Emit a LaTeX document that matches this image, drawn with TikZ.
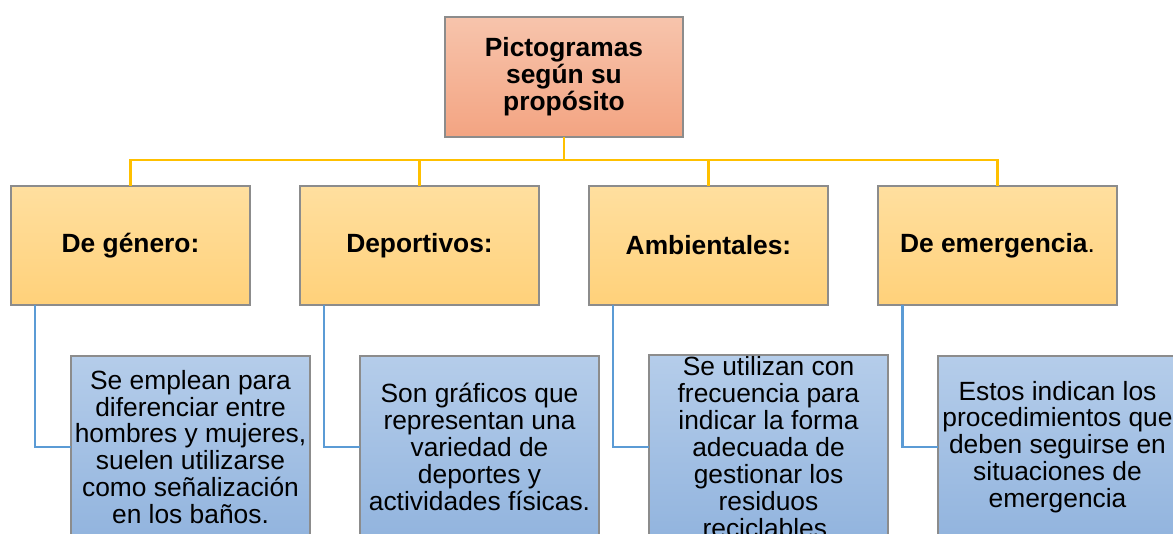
\documentclass[tikz,border=0pt]{standalone}
\usepackage{fontspec}
\setmainfont{Liberation Sans}
\usetikzlibrary{positioning}

\definecolor{boxgray}{HTML}{8C8C8C}
\definecolor{salmonTop}{HTML}{F7C4AC}
\definecolor{salmonBot}{HTML}{F3A482}
\definecolor{sandTop}{HTML}{FFDF9F}
\definecolor{sandBot}{HTML}{FFD17A}
\definecolor{skyTop}{HTML}{B5CDEA}
\definecolor{skyBot}{HTML}{92B4DE}
\definecolor{treeyellow}{HTML}{FFC000}
\definecolor{linkblue}{HTML}{5B9BD5}

\tikzset{
  titlebox/.style={draw=boxgray, line width=0.8pt, outer sep=0pt, top color=salmonTop, bottom color=salmonBot,
    minimum width=4.76cm, minimum height=2.4cm, align=center,
    font=\fontsize{15}{15.3}\selectfont\bfseries},
  catbox/.style={draw=boxgray, line width=0.8pt, outer sep=0pt, top color=sandTop, bottom color=sandBot,
    minimum width=4.78cm, minimum height=2.38cm, align=center,
    font=\fontsize{15}{15.3}\selectfont\bfseries},
  descbox/.style={draw=boxgray, line width=0.8pt, outer sep=0pt, top color=skyTop, bottom color=skyBot,
    minimum width=4.78cm, minimum height=3.64cm, align=center, inner sep=1pt,
    font=\fontsize{15}{15.3}\selectfont},
  trunk/.style={draw=treeyellow, line width=1.7pt},
  branch/.style={draw=linkblue, line width=1.7pt},
}

\begin{document}
\begin{tikzpicture}
  \clip (0,0) rectangle (23.46,-10.68);
  \useasboundingbox (0,0) rectangle (23.46,-10.68);

  \node [titlebox] (top) at (11.28,-1.54) {Pictogramas\\según su\\propósito};

  \node [catbox] (gen) at (2.61,-4.91) {De género:};
  \node [catbox,right=1cm of gen] (dep) {Deportivos:};
  \node [catbox,right=1cm of dep] (amb) {Ambientales:};
  \node [catbox,right=1cm of amb] (emg) {De emergencia{\mdseries.}};

  \node [descbox] (dgen) at (3.81,-8.94) {Se emplean para\\diferenciar entre\\hombres y mujeres,\\suelen utilizarse\\como señalización\\en los baños.};
  \node [descbox,right=1cm of dgen] (ddep) {Son gráficos que\\representan una\\variedad de\\deportes y\\actividades físicas.};
  \node [descbox,right=1cm of ddep] (damb) {Se utilizan con\\frecuencia para\\indicar la forma\\adecuada de\\gestionar los\\residuos\\reciclables.};
  \node [descbox,right=1cm of damb] (demg) {Estos indican los\\procedimientos que\\deben seguirse en\\situaciones de\\emergencia};

  % yellow tree
  \draw [trunk] (top.south) -- ++(0,-0.46) -| (gen.north);
  \draw [trunk] (top.south) -- ++(0,-0.46) -| (dep.north);
  \draw [trunk] (top.south) -- ++(0,-0.46) -| (amb.north);
  \draw [trunk] (top.south) -- ++(0,-0.46) -| (emg.north);

  % blue links
  \draw [branch] ([xshift=0.48cm]gen.south west) |- (dgen.west);
  \draw [branch] ([xshift=0.48cm]dep.south west) |- (ddep.west);
  \draw [branch] ([xshift=0.48cm]amb.south west) |- (damb.west);
  \draw [branch] ([xshift=0.48cm]emg.south west) |- (demg.west);
\end{tikzpicture}
\end{document}
